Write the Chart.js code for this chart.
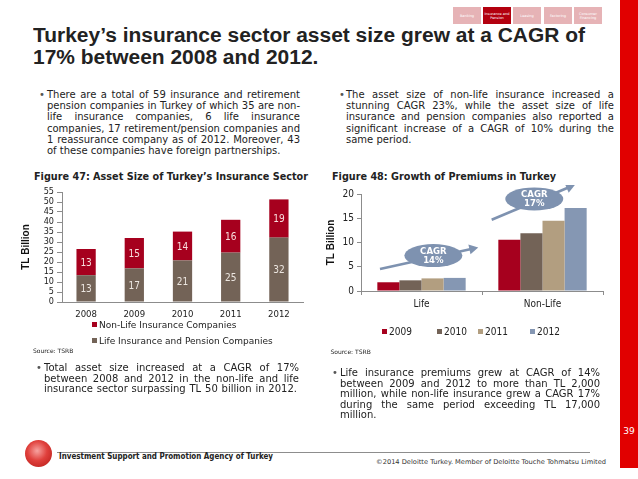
<!DOCTYPE html>
<html>
<head>
<meta charset="utf-8">
<script src="https://cdn.jsdelivr.net/npm/chart.js@4.4.1/dist/chart.umd.min.js"></script>
<style>
  body{margin:0;background:#fff}
  #slide{position:relative;width:638px;height:479px;overflow:hidden;background:#fff;
         font-family:'DejaVu Sans',sans-serif;color:#222}
  .ln{position:absolute;white-space:nowrap;line-height:12px;font-size:10px}
  .tab{position:absolute;top:7px;width:28px;height:17px;background:#e6b3b6;color:#fff;
       font-size:3.5px;line-height:4px;text-align:center;display:flex;align-items:center;justify-content:center}
  .tab.on{background:#b3000f}
  .lg{position:absolute;white-space:nowrap;font-size:9px;line-height:12px;font-family:'DejaVu Sans'}
  .lg i{display:inline-block;width:5px;height:5px;margin-right:2px;vertical-align:1px}
  canvas{position:absolute}
</style>
</head>
<body>
<div id="slide">
  <!-- nav tabs -->
  <div class="tab" style="left:453px">Banking</div>
  <div class="tab on" style="left:483px">Insurance and Pension</div>
  <div class="tab" style="left:513px">Leasing</div>
  <div class="tab" style="left:544px">Factoring</div>
  <div class="tab" style="left:574px">Consumer Financing</div>
  <div style="position:absolute;left:620px;top:0;width:18px;height:468px;background:#e10000"></div>
  <div style="position:absolute;left:620px;top:426px;width:18px;text-align:center;color:#fff;font-size:9px">39</div>

  <!-- headline -->
  <div class="ln hd" data-x="33" data-y="34.5" data-sw="552" style="font:bold 19.5px 'Liberation Sans';line-height:22px">Turkey’s insurance sector asset size grew at a CAGR of</div>
  <div class="ln hd" data-x="33" data-y="57" style="font:bold 19.5px 'Liberation Sans';line-height:22px">17% between 2008 and 2012.</div>

  <!-- top bullets -->
  <div class="ln" data-x="39" data-y="95" style="color:#555">•</div>
  <div class="ln" data-x="47" data-y="95" data-w="253">There are a total of 59 insurance and retirement</div>
  <div class="ln" data-x="47" data-y="106.2" data-w="253">pension companies in Turkey of which 35 are non-</div>
  <div class="ln" data-x="47" data-y="117.3" data-w="253">life insurance companies, 6 life insurance</div>
  <div class="ln" data-x="47" data-y="128.5" data-w="253">companies, 17 retirement/pension companies and</div>
  <div class="ln" data-x="47" data-y="139.6" data-w="253">1 reassurance company as of 2012. Moreover, 43</div>
  <div class="ln" data-x="47" data-y="150.8">of these companies have foreign partnerships.</div>

  <div class="ln" data-x="339" data-y="95" style="color:#555">•</div>
  <div class="ln" data-x="346" data-y="95" data-w="268">The asset size of non-life insurance increased a</div>
  <div class="ln" data-x="346" data-y="106.2" data-w="268">stunning CAGR 23%, while the asset size of life</div>
  <div class="ln" data-x="346" data-y="117.3" data-w="268">insurance and pension companies also reported a</div>
  <div class="ln" data-x="346" data-y="128.5" data-w="268">significant increase of a CAGR of 10% during the</div>
  <div class="ln" data-x="346" data-y="139.6">same period.</div>

  <!-- figure titles -->
  <div class="ln" data-x="34" data-y="176.7" data-sw="274" style="font:bold 10px 'DejaVu Sans'">Figure 47: Asset Size of Turkey’s Insurance Sector</div>
  <div class="ln" data-x="331.5" data-y="176.7" data-sw="224" style="font:bold 10px 'DejaVu Sans'">Figure 48: Growth of Premiums in Turkey</div>

  <canvas id="c1" width="290" height="140" style="left:20px;top:182px"></canvas>
  <canvas id="c2" width="285" height="125" style="left:325px;top:185px"></canvas>
  <div id="lg1"></div>
  <div id="lg2"></div>

  <!-- sources -->
  <div class="ln" data-x="33" data-y="351" style="font-size:6px">Source: TSRB</div>
  <div class="ln" data-x="330.5" data-y="352" style="font-size:6px">Source: TSRB</div>

  <!-- bottom bullets -->
  <div class="ln" data-x="36" data-y="367.6" style="color:#555">•</div>
  <div class="ln" data-x="44" data-y="367.6" data-w="255">Total asset size increased at a CAGR of 17%</div>
  <div class="ln" data-x="44" data-y="378.5" data-w="255">between 2008 and 2012 in the non-life and life</div>
  <div class="ln" data-x="44" data-y="389.4" data-w="253">insurance sector surpassing TL 50 billion in 2012.</div>

  <div class="ln" data-x="332" data-y="373" style="color:#555">•</div>
  <div class="ln" data-x="340" data-y="373" data-w="260">Life insurance premiums grew at CAGR of 14%</div>
  <div class="ln" data-x="340" data-y="383.5" data-w="260">between 2009 and 2012 to more than TL 2,000</div>
  <div class="ln" data-x="340" data-y="394" data-w="260">million, while non-life insurance grew a CAGR 17%</div>
  <div class="ln" data-x="340" data-y="404.5" data-w="260">during the same period exceeding TL 17,000</div>
  <div class="ln" data-x="340" data-y="415">million.</div>

  <!-- footer -->
  <div style="position:absolute;left:25px;top:440px;width:27px;height:27px;border-radius:50%;
       background:radial-gradient(circle at 45% 40%,#f7a3a0 0%,#e0403c 45%,#c22622 80%,#e98a86 100%)"></div>
  <div style="position:absolute;left:57px;top:451.5px;width:533px;height:1.5px;background:#8d8d8d"></div>
  <div class="ln" data-x="59" data-y="458.3" data-sw="214" style="font:bold 8px 'DejaVu Sans'">Investment Support and Promotion Agency of Turkey</div>
  <div class="ln" data-x="376" data-y="462" data-sw="230" style="font-size:6.5px;color:#333">©2014 Deloitte Turkey. Member of Deloitte Touche Tohmatsu Limited</div>
</div>

<script>
/* ===== data ===== */
const assetYears    = ['2008','2009','2010','2011','2012'];
const lifeAssets    = [13.4, 16.8, 20.8, 24.7, 32.2];
const nonLifeAssets = [13.1, 15.2, 14.4, 16.4, 19.1];
const assetSeries   = ['Non-Life Insurance Companies','Life Insurance and Pension Companies'];
const assetMax = 55, assetStep = 5;

const premiumCats  = ['Life','Non-Life'];
const premiumYears = ['2009','2010','2011','2012'];
const prem2009 = [1.8, 10.55];
const prem2010 = [2.2, 11.9];
const prem2011 = [2.6, 14.5];
const prem2012 = [2.7, 17.1];
const premMax = 20, premStep = 5;
const cagrValues = ['14%','17%'];

/* ===== styles ===== */
const RED='#a6001e', BROWN='#736357', TAN='#b29e80', BLUE='#8597b3', CAGRC='#7e92b0';
const AX='#8c8c8c', TXT='#222';
const F = s=>({family:"'DejaVu Sans Condensed','DejaVu Sans'", size:s});

/* text placement: center y, optional justify width / fit width */
const $=id=>document.getElementById(id);
const qa=(s,r=document)=>Array.from(r.querySelectorAll(s));
let hdScale=1;
qa('.ln').forEach(el=>{
  const lh=parseFloat(getComputedStyle(el).lineHeight)||12;
  el.style.left=el.dataset.x+'px';
  el.style.top=(+el.dataset.y - lh/2)+'px';
  const nat=el.getBoundingClientRect().width;
  if(el.dataset.w){
    const n=(el.textContent.match(/ /g)||[]).length;
    if(n) el.style.wordSpacing=((+el.dataset.w-nat)/n)+'px';
  }
  if(el.dataset.sw){
    const k=+el.dataset.sw/nat;
    el.style.transformOrigin='0 50%';
    el.style.transform='scaleX('+k+')';
    if(el.classList.contains('hd')) hdScale=k;
  }
});
qa('.hd').forEach(el=>{ el.style.transformOrigin='0 50%'; el.style.transform='scaleX('+hdScale+')'; });

/* legends */
function legend(id, items, rows, x, y){
  const host=$(id);
  items.forEach((it,i)=>{
    const d=document.createElement('div'); d.className='lg';
    d.innerHTML='<i style="background:'+it.c+'"></i>'+it.t;
    if(rows){ d.style.left=x+'px'; d.style.top=(y[i]-6)+'px'; }
    else { d.style.left=x[i]+'px'; d.style.top=(y-6)+'px'; d.style.fontSize='10px';
           d.style.fontFamily="'DejaVu Sans Condensed','DejaVu Sans'"; }
    host.appendChild(d);
  });
}
legend('lg1',[{t:assetSeries[0],c:RED},{t:assetSeries[1],c:BROWN}],true,92,[325,340.7]);
legend('lg2',premiumYears.map((t,i)=>({t,c:[RED,BROWN,TAN,BLUE][i]})),false,[382,437,478,530],331.7);

/* segment value labels */
const segLabels={
  id:'segLabels',
  afterDatasetsDraw(chart){
    const ctx=chart.ctx; ctx.save();
    ctx.font="10px 'DejaVu Sans Condensed','DejaVu Sans'";
    ctx.textAlign='center'; ctx.textBaseline='middle';
    chart.data.datasets.forEach((ds,di)=>{
      chart.getDatasetMeta(di).data.forEach((b,i)=>{
        ctx.fillStyle=di===0?'#ece6e0':'#f8dede';
        ctx.fillText(Math.round(ds.data[i]), b.x, (b.y+b.base)/2+1);
      });
    });
    ctx.restore();
  }
};

/* CAGR bubbles + arrows: positions in data units (category index, value) */
const cagrNotes=[
  {v:0, ex:0.098, ey:7.3,  from:[-0.343,4.55], to:[0.469,8.96]},
  {v:1, ex:0.932, ey:18.97,from:[0.58,14.7],   to:[1.269,21.9]}
];
const cagrPlugin={
  id:'cagr',
  afterDatasetsDraw(chart){
    const {ctx,scales:{x,y}}=chart; ctx.save();
    cagrNotes.forEach(n=>{
      const x0=x.getPixelForValue(n.from[0]), y0=y.getPixelForValue(n.from[1]);
      const x1=x.getPixelForValue(n.to[0]),   y1=y.getPixelForValue(n.to[1]);
      const a=Math.atan2(y1-y0,x1-x0), hl=9, hw=5;
      ctx.strokeStyle=CAGRC; ctx.fillStyle=CAGRC; ctx.lineWidth=2.6;
      ctx.beginPath(); ctx.moveTo(x0,y0);
      ctx.lineTo(x1-Math.cos(a)*hl*0.8, y1-Math.sin(a)*hl*0.8); ctx.stroke();
      ctx.beginPath(); ctx.moveTo(x1,y1);
      ctx.lineTo(x1-Math.cos(a)*hl-Math.sin(a)*hw, y1-Math.sin(a)*hl+Math.cos(a)*hw);
      ctx.lineTo(x1-Math.cos(a)*hl+Math.sin(a)*hw, y1-Math.sin(a)*hl-Math.cos(a)*hw);
      ctx.closePath(); ctx.fill();
      const cx=x.getPixelForValue(n.ex), cy=y.getPixelForValue(n.ey);
      ctx.beginPath(); ctx.ellipse(cx,cy,29,11.5,0,0,Math.PI*2); ctx.fill();
      ctx.fillStyle='#fff'; ctx.textAlign='center'; ctx.textBaseline='middle';
      ctx.font="bold 9.5px 'DejaVu Sans Condensed','DejaVu Sans'";
      ctx.fillText('CAGR',cx,cy-4.5);
      ctx.fillText(cagrValues[n.v],cx,cy+5);
    });
    ctx.restore();
  }
};

const yTitle={display:true,text:'TL Billion',color:'#111',padding:0,
              font:{family:'Liberation Sans',weight:'bold',size:10}};

/* ===== Figure 47 ===== */
new Chart($('c1'),{
  type:'bar',
  data:{labels:assetYears,datasets:[
    {label:assetSeries[1],data:lifeAssets,backgroundColor:BROWN},
    {label:assetSeries[0],data:nonLifeAssets,backgroundColor:RED}
  ]},
  options:{
    responsive:false,animation:false,devicePixelRatio:1,
    layout:{padding:{top:10,right:7,left:0,bottom:0}},
    plugins:{legend:{display:false},tooltip:{enabled:false}},
    datasets:{bar:{categoryPercentage:0.8,barPercentage:0.5}},
    scales:{
      x:{stacked:true,grid:{display:false,drawTicks:false},border:{color:AX},
         ticks:{font:F(9.5),color:TXT,padding:7},afterFit:s=>{s.height=20;}},
      y:{stacked:true,min:0,max:assetMax,
         ticks:{stepSize:assetStep,autoSkip:false,font:F(9),color:TXT,padding:3},
         grid:{drawOnChartArea:false,tickLength:5,color:AX},border:{color:AX},
         title:yTitle,afterFit:s=>{s.width=42;}}
    }
  },
  plugins:[segLabels]
});

/* ===== Figure 48 ===== */
new Chart($('c2'),{
  type:'bar',
  data:{labels:premiumCats,datasets:[
    {label:premiumYears[0],data:prem2009,backgroundColor:RED},
    {label:premiumYears[1],data:prem2010,backgroundColor:BROWN},
    {label:premiumYears[2],data:prem2011,backgroundColor:TAN},
    {label:premiumYears[3],data:prem2012,backgroundColor:BLUE}
  ]},
  options:{
    responsive:false,animation:false,devicePixelRatio:1,
    layout:{padding:{top:9,right:7,left:0,bottom:0}},
    plugins:{legend:{display:false},tooltip:{enabled:false}},
    datasets:{bar:{categoryPercentage:0.73,barPercentage:1.0}},
    scales:{
      x:{grid:{drawOnChartArea:false,tickLength:4,color:AX},border:{color:AX},
         ticks:{font:F(10),color:TXT,padding:3},afterFit:s=>{s.height=19;}},
      y:{min:0,max:premMax,
         ticks:{stepSize:premStep,font:F(10),color:TXT,padding:3},
         grid:{drawOnChartArea:false,tickLength:4,color:AX},border:{color:AX},
         title:yTitle,afterFit:s=>{s.width=36;}}
    }
  },
  plugins:[cagrPlugin]
});
</script>
</body>
</html>
